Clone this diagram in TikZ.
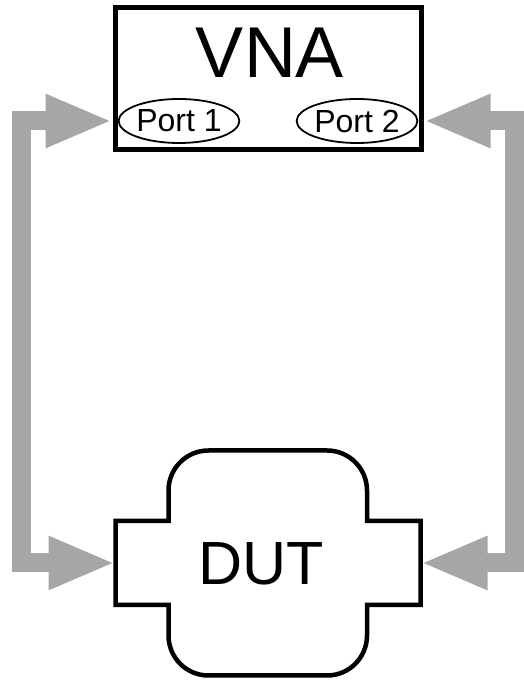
\documentclass[tikz,border=0pt]{standalone}
\usepackage{fontspec}
\setmainfont{Liberation Sans}
\usetikzlibrary{arrows.meta,shapes.geometric}
\definecolor{arrowgray}{RGB}{166,166,166}
\tikzset{
  conn/.style={draw=arrowgray, line width=19pt, line join=miter,
    {Triangle[length=67pt,width=49pt]}-{Triangle[length=67pt,width=49pt]}},
  portnode/.style={ellipse, draw, line width=1.8pt, minimum width=118pt,
    minimum height=44pt, inner sep=0pt, font=\fontsize{32}{36}\selectfont},
  dutline/.style={draw, line width=4.5pt, line join=miter},
}
\begin{document}
\begin{tikzpicture}[x=1pt,y=1pt]
\useasboundingbox[fill=white] (0,0) rectangle (523,680);
% VNA box
\node[draw, line width=5pt, minimum width=306pt, minimum height=142pt,
  inner sep=0pt] (vna) at (268,601) {};
\node[anchor=base, font=\fontsize{72}{80}\selectfont, inner sep=0pt] (vnalabel) at (270,602) {VNA};
\node[portnode] (p1) at (179,559) {Port 1};
\node[portnode] (p2) at (357,559) {Port 2};
% DUT
\node[minimum width=305pt, minimum height=84pt, inner sep=0pt, outer sep=0pt] (dutbody) at (268,117) {};
\draw[dutline] (115.5,159) -- (168.5,159) -- (168.5,189.5)
  arc[start angle=180,end angle=90,radius=40] -- (327,229.5)
  arc[start angle=90,end angle=0,radius=40] -- (367,159) -- (420.5,159)
  -- (420.5,75) -- (367,75) -- (367,44.5)
  arc[start angle=0,end angle=-90,radius=40] -- (208.5,4.5)
  arc[start angle=270,end angle=180,radius=40] -- (168.5,75) -- (115.5,75) -- cycle;
\node[anchor=base, font=\fontsize{61}{70}\selectfont, inner sep=0pt] (dutlabel) at (261,95) {DUT};
% connectors
\coordinate (lcol) at (21,0);
\coordinate (rcol) at (514,0);
\draw[conn] (p1.center -| vna.west) -- (p1.center -| lcol) -- (dutbody.west -| lcol) -- (dutbody.west);
\draw[conn] (p2.center -| vna.east) -- (p2.center -| rcol) -- (dutbody.east -| rcol) -- (dutbody.east);
\end{tikzpicture}
\end{document}
